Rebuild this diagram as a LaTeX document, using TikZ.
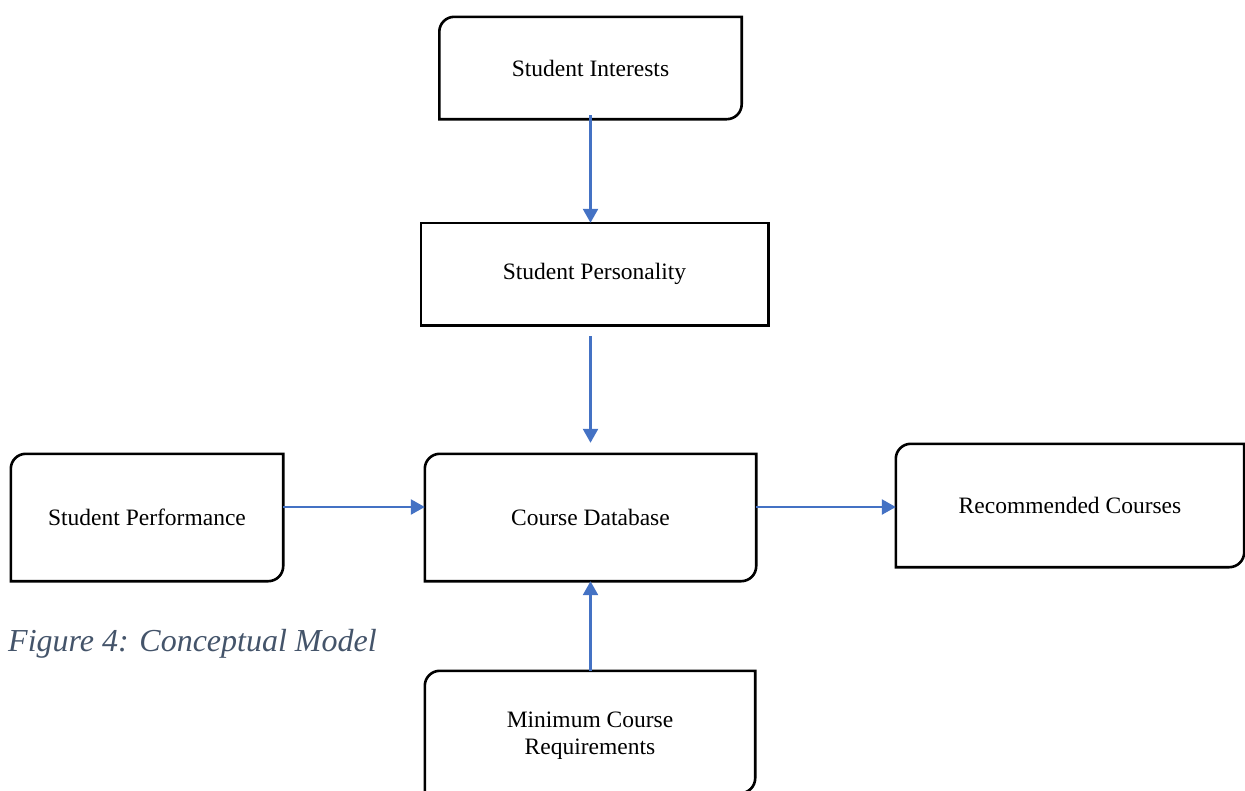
\documentclass[tikz,border=0pt]{standalone}
\usepackage{fontspec}
\setmainfont{Liberation Serif}
\usetikzlibrary{arrows.meta,calc}
\definecolor{arrowblue}{HTML}{4472C4}
\definecolor{captiongray}{HTML}{44546A}
\tikzset{
  boxtext/.style={inner sep=0pt, align=center, font=\fontsize{23.5}{27}\selectfont},
  boxline/.style={draw=black, line width=2.6pt},
  arr/.style={draw=arrowblue, line width=2.5pt, -{Triangle[length=14pt,width=15pt]}},
}
\newcommand\rdbox[1]{%
  \draw[boxline] ([xshift=15pt]#1.north west) -- (#1.north east) -- ([yshift=15pt]#1.south east)
    arc[start angle=0,end angle=-90,radius=15pt] -- (#1.south west) -- ([yshift=-15pt]#1.north west)
    arc[start angle=180,end angle=90,radius=15pt] -- cycle;}
\begin{document}
\begin{tikzpicture}[x=1pt,y=-1pt]
\useasboundingbox (0,0) rectangle (1245,790);
\node[boxtext, minimum width=302pt, minimum height=102pt] (si) at (590.5,68) {Student Interests};
\node[boxtext, minimum width=347pt, minimum height=102pt] (sp) at (594.5,274) {Student Personality};
\node[boxtext, minimum width=272pt, minimum height=127pt] (spf) at (147,517.5) {Student Performance};
\node[boxtext, minimum width=331pt, minimum height=127pt] (cd) at (590.5,517.5) {Course Database};
\node[boxtext, minimum width=348pt, minimum height=123pt] (rc) at (1070,505.5) {Recommended Courses};
\node[boxtext, minimum width=330pt, minimum height=122pt] (mcr) at (590,732) {};
\node[boxtext] (mcrt) at (590,736) {Minimum Course\\Requirements};
\coordinate (ay) at (0,507);
\rdbox{si}
\draw[boxline] (sp.north west) rectangle (sp.south east);
\rdbox{spf}
\rdbox{cd}
\rdbox{rc}
\rdbox{mcr}
\draw[arr] ([yshift=4pt]si.south) -- (si.south |- sp.north);
\draw[arr] ([yshift=-11pt]sp.south -| cd.north) -- ([yshift=11pt]cd.north);
\draw[arr] (spf.east |- ay) -- (cd.west |- ay);
\draw[arr] (cd.east |- ay) -- (rc.west |- ay);
\draw[arr] (mcr.north -| cd.south) -- (cd.south);
\node[anchor=base west, inner sep=0pt, text=captiongray, font=\fontsize{32}{36}\selectfont\itshape] (cap) at (8,651) {Figure 4: Conceptual Model};
\end{tikzpicture}
\end{document}
